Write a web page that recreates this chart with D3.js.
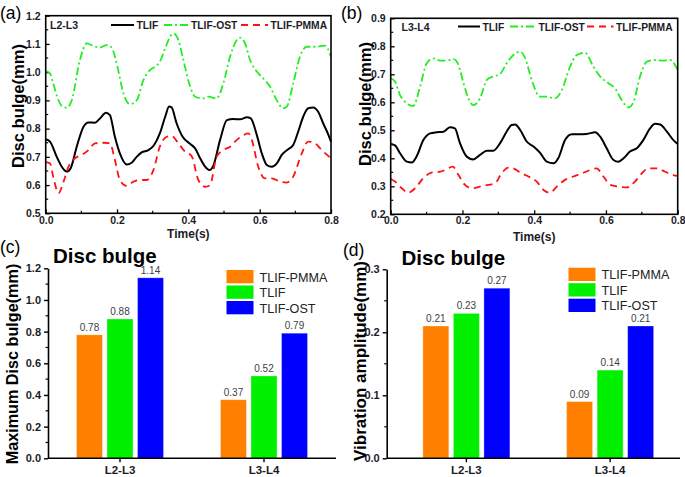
<!DOCTYPE html>
<html><head><meta charset="utf-8">
<script src="https://cdn.jsdelivr.net/npm/d3@7"></script>
<style>
body{margin:0;background:#fff;}
svg{display:block;font-family:Arial,"Liberation Sans",sans-serif;}
</style></head>
<body><svg id="c" width="685" height="477"></svg>
<script>
// ---------- DATA ----------
// Panel (a) L2-L3 time series [time(s), disc bulge(mm)]
const a_TLIF = [[0,0.762],[0.012,0.754],[0.031,0.70],[0.045,0.665],[0.059,0.648],[0.07,0.66],[0.087,0.736],[0.106,0.807],[0.12,0.822],[0.138,0.821],[0.152,0.836],[0.169,0.856],[0.18,0.848],[0.194,0.771],[0.208,0.712],[0.227,0.673],[0.241,0.679],[0.255,0.70],[0.269,0.716],[0.288,0.724],[0.304,0.742],[0.32,0.783],[0.335,0.842],[0.346,0.878],[0.353,0.875],[0.367,0.819],[0.384,0.771],[0.403,0.748],[0.419,0.73],[0.433,0.695],[0.447,0.665],[0.459,0.653],[0.47,0.668],[0.489,0.76],[0.508,0.83],[0.526,0.834],[0.545,0.833],[0.564,0.84],[0.575,0.836],[0.592,0.777],[0.606,0.712],[0.62,0.671],[0.634,0.665],[0.648,0.677],[0.662,0.707],[0.68,0.727],[0.694,0.742],[0.708,0.789],[0.722,0.842],[0.736,0.872],[0.75,0.875],[0.764,0.86],[0.778,0.819],[0.793,0.777],[0.8,0.754]];
const a_OST = [[0,1.004],[0.012,0.996],[0.021,0.96],[0.036,0.90],[0.045,0.88],[0.059,0.874],[0.073,0.90],[0.096,1.043],[0.115,1.102],[0.134,1.093],[0.152,1.087],[0.171,1.096],[0.185,1.087],[0.201,1.02],[0.218,0.925],[0.236,0.887],[0.255,0.90],[0.274,0.972],[0.293,1.008],[0.307,1.02],[0.32,1.037],[0.335,1.084],[0.349,1.126],[0.358,1.137],[0.372,1.114],[0.386,1.043],[0.405,0.949],[0.419,0.913],[0.442,0.907],[0.456,0.913],[0.479,0.907],[0.498,0.96],[0.517,1.055],[0.536,1.114],[0.545,1.122],[0.559,1.102],[0.573,1.043],[0.592,1.002],[0.61,0.978],[0.629,0.949],[0.648,0.90],[0.666,0.872],[0.676,0.878],[0.694,0.96],[0.713,1.055],[0.732,1.09],[0.76,1.09],[0.783,1.094],[0.8,1.055]];
const a_PMMA = [[0,0.681],[0.012,0.677],[0.021,0.63],[0.036,0.571],[0.05,0.612],[0.064,0.665],[0.082,0.695],[0.101,0.707],[0.12,0.724],[0.138,0.748],[0.162,0.75],[0.18,0.748],[0.194,0.689],[0.208,0.618],[0.227,0.597],[0.246,0.612],[0.264,0.618],[0.283,0.618],[0.302,0.653],[0.32,0.736],[0.339,0.771],[0.353,0.774],[0.372,0.748],[0.391,0.718],[0.409,0.703],[0.428,0.618],[0.447,0.594],[0.461,0.60],[0.479,0.70],[0.498,0.724],[0.517,0.736],[0.536,0.76],[0.555,0.777],[0.568,0.783],[0.578,0.76],[0.596,0.665],[0.615,0.624],[0.634,0.624],[0.657,0.612],[0.676,0.609],[0.694,0.63],[0.718,0.712],[0.736,0.754],[0.755,0.748],[0.774,0.724],[0.8,0.695]];
// Panel (b) L3-L4
const b_TLIF = [[0,0.451],[0.012,0.446],[0.026,0.418],[0.045,0.388],[0.059,0.385],[0.072,0.406],[0.091,0.465],[0.11,0.489],[0.128,0.493],[0.147,0.495],[0.165,0.511],[0.179,0.507],[0.193,0.454],[0.212,0.406],[0.23,0.396],[0.249,0.412],[0.268,0.427],[0.286,0.427],[0.305,0.454],[0.323,0.495],[0.337,0.519],[0.347,0.521],[0.361,0.501],[0.379,0.46],[0.398,0.442],[0.416,0.42],[0.435,0.388],[0.454,0.382],[0.467,0.40],[0.486,0.465],[0.505,0.486],[0.523,0.486],[0.546,0.487],[0.57,0.493],[0.584,0.477],[0.602,0.436],[0.621,0.394],[0.635,0.388],[0.649,0.40],[0.667,0.424],[0.686,0.436],[0.704,0.465],[0.723,0.507],[0.737,0.523],[0.751,0.521],[0.77,0.495],[0.788,0.465],[0.8,0.451]];
const b_OST = [[0,0.686],[0.012,0.674],[0.026,0.626],[0.045,0.596],[0.063,0.587],[0.082,0.656],[0.1,0.739],[0.119,0.757],[0.138,0.749],[0.156,0.749],[0.175,0.754],[0.189,0.733],[0.203,0.668],[0.221,0.602],[0.23,0.59],[0.249,0.614],[0.268,0.68],[0.286,0.692],[0.305,0.701],[0.323,0.739],[0.342,0.769],[0.361,0.781],[0.375,0.757],[0.393,0.68],[0.416,0.62],[0.435,0.62],[0.458,0.614],[0.477,0.644],[0.5,0.727],[0.519,0.769],[0.542,0.777],[0.565,0.727],[0.584,0.692],[0.607,0.668],[0.625,0.65],[0.644,0.608],[0.663,0.582],[0.677,0.602],[0.695,0.692],[0.714,0.745],[0.737,0.751],[0.76,0.749],[0.779,0.751],[0.8,0.715]];
const b_PMMA = [[0,0.326],[0.012,0.317],[0.031,0.293],[0.049,0.277],[0.068,0.293],[0.091,0.329],[0.114,0.349],[0.138,0.352],[0.156,0.361],[0.173,0.37],[0.189,0.34],[0.207,0.305],[0.226,0.293],[0.249,0.299],[0.272,0.305],[0.291,0.311],[0.309,0.346],[0.328,0.367],[0.342,0.364],[0.365,0.346],[0.384,0.335],[0.407,0.317],[0.426,0.287],[0.444,0.277],[0.463,0.299],[0.486,0.323],[0.509,0.335],[0.533,0.346],[0.556,0.358],[0.574,0.364],[0.593,0.335],[0.612,0.305],[0.635,0.299],[0.658,0.296],[0.681,0.317],[0.7,0.346],[0.718,0.364],[0.742,0.364],[0.765,0.352],[0.788,0.34],[0.8,0.337]];

// Bar charts
const levels = ["L2-L3","L3-L4"];
const barSeries = ["TLIF-PMMA","TLIF","TLIF-OST"];
const maxBulge = {"TLIF-PMMA":[0.78,0.37],"TLIF":[0.88,0.52],"TLIF-OST":[1.14,0.79]};
const vibAmp = {"TLIF-PMMA":[0.21,0.09],"TLIF":[0.23,0.14],"TLIF-OST":[0.27,0.21]};
const barColors = {"TLIF-PMMA":"#ff8000","TLIF":"#00f000","TLIF-OST":"#0000ff"};

const ticksA = [0.5,0.6,0.7,0.8,0.9,1.0,1.1,1.2];
const ticksB = [0.2,0.3,0.4,0.5,0.6,0.7,0.8,0.9];
const ticksT = [0,0.2,0.4,0.6,0.8];
const ticksC = [0,0.2,0.4,0.6,0.8,1.0,1.2];
const ticksD = [0,0.1,0.2,0.3];

// ---------- DRAW ----------
const svg = d3.select("#c");
const TXT = "#1c1c28";

const lineStyles = {
  TLIF:{color:"#000", dash:null, w:2},
  OST:{color:"#22ee22", dash:"8,3,2,3", w:1.8},
  PMMA:{color:"#ff1111", dash:"7,5", w:1.8}
};

function linePanel(o){
  const g = svg.append("g");
  const x = d3.scaleLinear().domain([0,0.8]).range([o.l,o.r]);
  const y = d3.scaleLinear().domain(o.ydom).range([o.b,o.t]);
  const xa = d3.axisBottom(x).tickValues(ticksT).tickFormat(d3.format(".1f")).tickSizeInner(-4).tickSizeOuter(0).tickPadding(o.xpad);
  const ya = d3.axisLeft(y).tickValues(o.ticks).tickFormat(d3.format(".1f")).tickSizeInner(-4).tickSizeOuter(0).tickPadding(5);
  const gx = g.append("g").attr("transform",`translate(0,${o.b})`).call(xa);
  const gy = g.append("g").attr("transform",`translate(${o.l},0)`).call(ya);
  const minorX = d3.range(0.1,0.8,0.2);
  g.selectAll(".mx").data(minorX).join("line").attr("x1",d=>x(d)).attr("x2",d=>x(d)).attr("y1",o.b).attr("y2",o.b-2.5).attr("stroke","#000").attr("stroke-width",1.2);
  const minorY = o.ticks.slice(0,-1).map(d=>d+0.05);
  g.selectAll(".my").data(minorY).join("line").attr("x1",o.l).attr("x2",o.l+2.5).attr("y1",d=>y(d)).attr("y2",d=>y(d)).attr("stroke","#000").attr("stroke-width",1.2);
  [gx,gy].forEach(a=>{
    a.selectAll(".domain").remove();
    a.selectAll("line").attr("stroke","#000").attr("stroke-width",1.3);
    a.selectAll("text").attr("font-size",10.5).attr("font-weight","bold").attr("fill",TXT).attr("font-family","Arial, 'Liberation Sans'");
  });
  const series = [["OST",o.ost],["TLIF",o.tlif],["PMMA",o.pmma]];
  const ln = d3.line().x(d=>x(d[0])).y(d=>y(d[1])).curve(d3.curveMonotoneX);
  series.forEach(([k,data])=>{
    const s = lineStyles[k];
    g.append("path").datum(data).attr("d",ln).attr("fill","none").attr("stroke",s.color).attr("stroke-width",s.w).attr("stroke-dasharray",s.dash);
  });
  g.append("rect").attr("x",o.l).attr("y",o.t).attr("width",o.r-o.l).attr("height",o.b-o.t).attr("fill","none").attr("stroke","#000").attr("stroke-width",1.6);
  g.append("text").attr("x",o.lab.x).attr("y",o.lab.y).text(o.name).attr("font-size",10.5).attr("font-weight","bold").attr("fill",TXT);
  const L = o.leg;
  const legItems = [["TLIF","TLIF",L[0]],["OST","TLIF-OST",L[1]],["PMMA","TLIF-PMMA",L[2]]];
  legItems.forEach(([k,name,p])=>{
    const s = lineStyles[k];
    g.append("line").attr("x1",p[0]).attr("x2",p[1]).attr("y1",o.lab.y-4).attr("y2",o.lab.y-4).attr("stroke",s.color).attr("stroke-width",s.w).attr("stroke-dasharray",s.dash);
    g.append("text").attr("x",p[1]+2.5).attr("y",o.lab.y).text(name).attr("font-size",10.3).attr("font-weight","bold").attr("fill",TXT);
  });
  g.append("text").attr("transform",`translate(${o.yt[0]},${o.yt[1]}) rotate(-90)`).attr("text-anchor","middle").text("Disc bulge(mm)").attr("font-size",16.5).attr("font-weight","bold").attr("fill","#000");
  g.append("text").attr("x",(o.l+o.r)/2).attr("y",o.xt).attr("text-anchor","middle").text("Time(s)").attr("font-size",12).attr("font-weight","bold").attr("fill",TXT);
  svg.append("text").attr("x",o.tag[0]).attr("y",o.tag[1]).text(o.tagText).attr("font-size",17.5).attr("fill","#000");
}

linePanel({l:45.7,r:331,t:15.7,b:213.3,ydom:[0.5,1.2],ticks:ticksA,tlif:a_TLIF,ost:a_OST,pmma:a_PMMA,xpad:3.2,
  name:"L2-L3",lab:{x:50,y:29},leg:[[111,134],[164,188.5],[241,268]],yt:[23.5,106],xt:238,tag:[0,19],tagText:"(a)"});
linePanel({l:390.7,r:677.7,t:18.3,b:214.3,ydom:[0.2,0.9],ticks:ticksB,tlif:b_TLIF,ost:b_OST,pmma:b_PMMA,xpad:2.6,
  name:"L3-L4",lab:{x:401.5,y:30.5},leg:[[458,480],[510,536],[587,613.5]],yt:[370.5,104],xt:240.5,tag:[341,19],tagText:"(b)"});

function barPanel(o){
  const g = svg.append("g");
  const x0 = d3.scaleBand().domain(levels).range(o.band);
  const x1 = d3.scaleBand().domain(barSeries).range([-43.5,43.5]).paddingInner(0.15);
  const y = d3.scaleLinear().domain(o.ydom).range([o.b,o.t]);
  const ya = d3.axisLeft(y).tickValues(o.ticks).tickFormat(d3.format(".1f")).tickSizeInner(4).tickSizeOuter(0).tickPadding(3);
  const gy = g.append("g").attr("transform",`translate(${o.l},0)`).call(ya);
  gy.select(".domain").attr("stroke","#000").attr("stroke-width",1.6);
  gy.selectAll("line").attr("stroke","#000").attr("stroke-width",1.4);
  gy.selectAll("text").attr("font-size",11).attr("font-weight","bold").attr("fill",TXT);
  g.selectAll(".my").data(o.ticks.slice(0,-1).map((d,i)=>(d+o.ticks[i+1])/2)).join("line")
    .attr("x1",o.l-2.5).attr("x2",o.l).attr("y1",d=>y(d)).attr("y2",d=>y(d)).attr("stroke","#000").attr("stroke-width",1.2);
  levels.forEach((lv,i)=>{
    barSeries.forEach(s=>{
      const v = o.data[s][i];
      const cx = x0(lv)+x0.bandwidth()/2;
      g.append("rect").attr("x",cx+x1(s)).attr("y",y(v)).attr("width",x1.bandwidth()).attr("height",o.b-y(v))
        .attr("fill",barColors[s]).attr("stroke","#ffffff").attr("stroke-opacity",0.35).attr("stroke-width",0.8);
      g.append("text").attr("x",cx+x1(s)+x1.bandwidth()/2).attr("y",y(v)-4).attr("text-anchor","middle")
        .text(v.toFixed(2)).attr("font-size",10).attr("fill","#3a3f4a");
    });
  });
  g.append("line").attr("x1",o.l).attr("x2",o.xr).attr("y1",o.b).attr("y2",o.b).attr("stroke","#000").attr("stroke-width",1.6);
  levels.forEach(lv=>{
    const cx = x0(lv)+x0.bandwidth()/2;
    g.append("line").attr("x1",cx).attr("x2",cx).attr("y1",o.b).attr("y2",o.b+4).attr("stroke","#000").attr("stroke-width",1.4);
    g.append("text").attr("x",cx).attr("y",o.b+16).attr("text-anchor","middle").text(lv).attr("font-size",11.5).attr("font-weight","bold").attr("fill",TXT);
  });
  barSeries.forEach((s,i)=>{
    const yy = o.legY + i*15.5;
    g.append("rect").attr("x",o.legX).attr("y",yy).attr("width",27).attr("height",13.3).attr("fill",barColors[s]);
    g.append("text").attr("x",o.legX+33).attr("y",yy+11.5).text(s).attr("font-size",12.6).attr("fill","#222");
  });
  g.append("text").attr("x",o.titleX).attr("y",o.titleY).text("Disc bulge").attr("font-size",20.5).attr("font-weight","bold").attr("fill","#000");
  g.append("text").attr("transform",`translate(${o.yt[0]},${o.yt[1]}) rotate(-90)`).attr("text-anchor","middle").text(o.ylabel).attr("font-size",o.ylfs).attr("font-weight","bold").attr("fill","#000");
  svg.append("text").attr("x",o.tag[0]).attr("y",o.tag[1]).text(o.tagText).attr("font-size",17.5).attr("fill","#000");
}

barPanel({l:48,xr:336,band:[48,336],b:458.3,t:268.3,ydom:[0,1.2],ticks:ticksC,data:maxBulge,
  legX:226.5,legY:270,titleX:53,titleY:262.5,yt:[17.5,364],ylabel:"Maximum Disc bulge(mm)",ylfs:16.2,tag:[0,253],tagText:"(c)"});
barPanel({l:386.7,xr:680,band:[394.5,682],b:458.3,t:269.3,ydom:[0,0.3],ticks:ticksD,data:vibAmp,
  legX:568.5,legY:267.7,titleX:401.5,titleY:264.5,yt:[365.5,361],ylabel:"Vibration amplitude(mm)",ylfs:17,tag:[343,256],tagText:"(d)"});
</script></body></html>
